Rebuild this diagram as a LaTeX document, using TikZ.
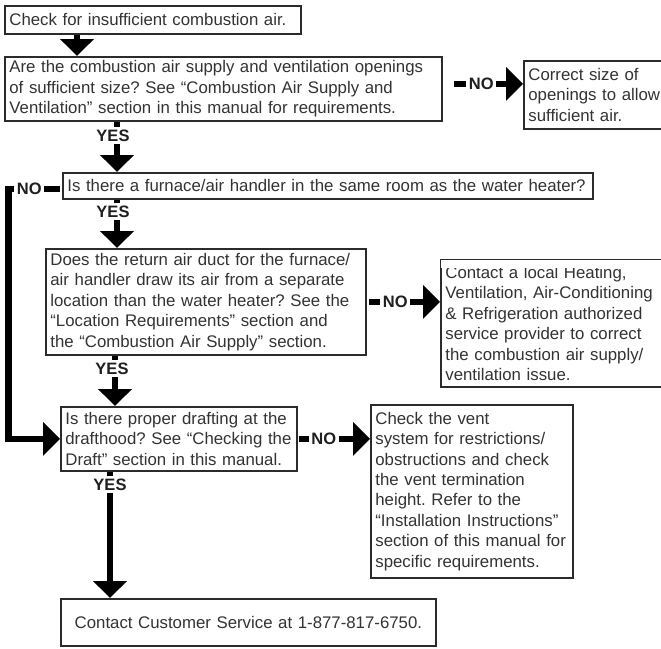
\documentclass[tikz,border=0pt]{standalone}
\usepackage{fontspec}
\setmainfont{Liberation Sans}
\usetikzlibrary{arrows.meta}
\definecolor{ink}{HTML}{333333}
\definecolor{rule}{HTML}{2B2B2B}
\frenchspacing
\newcommand{\oneline}[1]{\mbox{#1}}
\tikzset{
  box/.style={draw=rule, line width=1.8pt, anchor=north west, align=left,
    inner xsep=4.5pt, inner ysep=0pt, text=ink,
    font=\fontsize{16.8}{20.4}\selectfont},
  flow/.style={draw=black, line width=6.5pt, line join=miter,
    -{Triangle[width=33pt,length=17pt]}},
  answer/.style={fill=white, text=black!88, inner xsep=2.5pt, inner ysep=3pt,
    font=\bfseries\fontsize{16.5}{18}\selectfont},
}
\begin{document}
\begin{tikzpicture}[x=1pt, y=-1pt]
  \useasboundingbox (0,0) rectangle (661,648);
  \fill[white] (0,0) rectangle (661,648);

  % boxes of the flowchart
  \node[box, minimum width=296pt, minimum height=28pt, text width=287pt] (b1) at (4,5)
    {\oneline{Check for insufficient combustion air.}};
  \node[box, minimum width=437pt, minimum height=64pt, text width=428pt] (b2) at (4,56)
    {\oneline{Are the combustion air supply and ventilation openings}\\
     \oneline{of sufficient size? See “Combustion Air Supply and}\\
     \oneline{Ventilation” section in this manual for requirements.}};
  \node[box, minimum width=140pt, minimum height=68pt, text width=131pt] (b3) at (523,60)
    {\oneline{Correct size of}\\ \oneline{openings to allow}\\ \oneline{sufficient air.}};
  \node[box, minimum width=530pt, minimum height=26pt, text width=521pt] (b4) at (62,172)
    {\oneline{Is there a furnace/air handler in the same room as the water heater?}};
  \node[box, minimum width=320pt, minimum height=106pt, text width=311pt] (b5) at (45,248)
    {\oneline{Does the return air duct for the furnace/}\\
     \oneline{air handler draw its air from a separate}\\
     \oneline{location than the water heater? See the}\\
     \oneline{“Location Requirements” section and}\\
     \oneline{the “Combustion Air Supply” section.}};
  \node[box, minimum width=221pt, minimum height=127pt, text width=212pt] (b7) at (440,259)
    {\oneline{Contact a local Heating,}\\
     \oneline{Ventilation, Air-Conditioning}\\
     \oneline{\& Refrigeration authorized}\\
     \oneline{service provider to correct}\\
     \oneline{the combustion air supply/}\\
     \oneline{ventilation issue.}};
  % the first line of this box runs under its top edge
  \fill[white] ([xshift=1pt,yshift=-0.9pt]b7.north west)
    rectangle ([xshift=-1pt,yshift=-9pt]b7.north east);
  \node[box, minimum width=236pt, minimum height=64pt, text width=227pt] (b6) at (60,406)
    {\oneline{Is there proper drafting at the}\\
     \oneline{drafthood? See “Checking the}\\
     \oneline{Draft” section in this manual.}};
  \node[box, minimum width=202pt, minimum height=173pt, text width=193pt] (b8) at (370,404)
    {\oneline{Check the vent}\\
     \oneline{system for restrictions/}\\
     \oneline{obstructions and check}\\
     \oneline{the vent termination}\\
     \oneline{height. Refer to the}\\
     \oneline{“Installation Instructions”}\\
     \oneline{section of this manual for}\\
     \oneline{specific requirements.}};
  \node[box, align=center, minimum width=375pt, minimum height=47pt, text width=366pt] (b9) at (60,598)
    {Contact Customer Service at 1-877-817-6750.};

  % connectors
  \coordinate (rail) at (8.5,0);
  \draw[flow] ([xshift=73pt]b1.south west) -- ([xshift=73pt]b2.north west);
  \draw[flow] ([xshift=113pt]b2.south west) -- ([xshift=55pt]b4.north west)
    node[answer, pos=.27, xshift=-4pt] {YES};
  \draw[flow] ([xshift=55pt]b4.south west) -- ([xshift=72pt]b5.north west)
    node[answer, pos=.24, xshift=-4pt] {YES};
  \draw[flow] ([xshift=70pt]b5.south west) -- ([xshift=55pt]b6.north west)
    node[answer, pos=.25, xshift=-3pt] {YES};
  \draw[flow] ([xshift=50pt]b6.south west) -- ([xshift=50pt]b9.north west)
    node[answer, pos=.1] {YES};

  \draw[flow, shorten <=11pt] ([yshift=5pt]b2.east) -- ([yshift=5pt]b2.east -| b3.west)
    node[answer, pos=.48] {NO};
  \draw[flow, shorten <=2pt] (b5.east) -- (b5.east -| b7.west)
    node[answer, pos=.39] {NO};
  \draw[flow, shorten <=1pt] (b6.east) -- (b6.east -| b8.west)
    node[answer, pos=.36] {NO};
  \draw[flow, shorten <=2pt] ([yshift=-3pt]b4.west) -- ([yshift=-3pt]b4.west -| rail)
    node[answer, pos=.61] {NO}
    -- (rail |- b6.west) -- (b6.west);
\end{tikzpicture}
\end{document}
